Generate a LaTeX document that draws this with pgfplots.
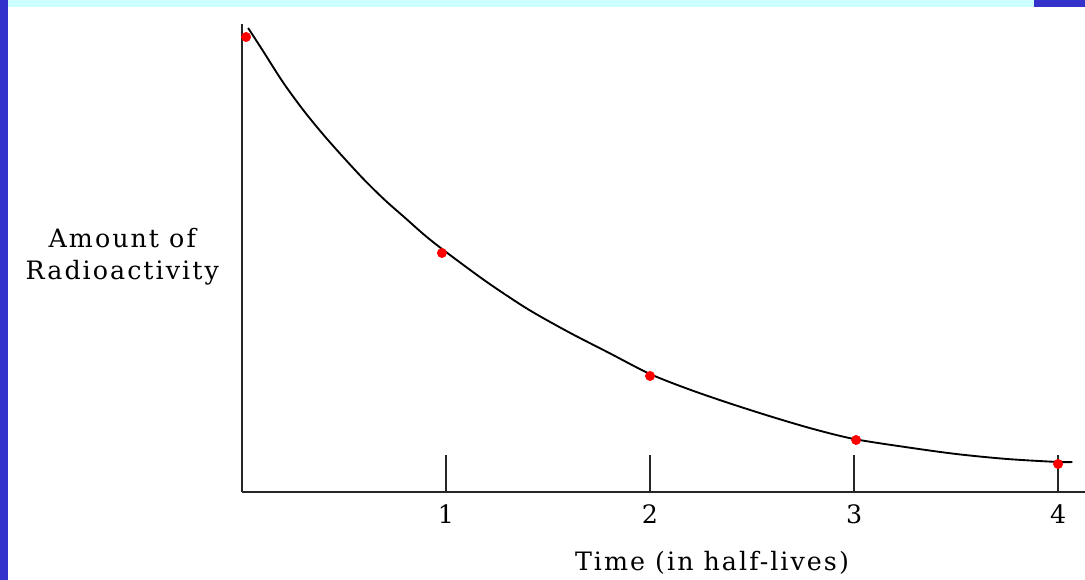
\documentclass[border=0pt]{standalone}
\usepackage{pgfplots}
\pgfplotsset{compat=1.18}
\usepackage{fontspec}
\setmainfont{DejaVu Serif}[LetterSpace=8]
\definecolor{barblue}{RGB}{51,51,204}
\definecolor{barcyan}{RGB}{204,255,255}
\begin{document}
\begin{tikzpicture}
\useasboundingbox (-181.5pt,-66pt) rectangle (632.25pt,369pt);
\fill[white] (-181.5pt,-66pt) rectangle (632.25pt,369pt);
\fill[barblue] (-181.5pt,-66pt) rectangle (-175.5pt,369pt);
\fill[barcyan] (-175.5pt,363.75pt) rectangle (594pt,369pt);
\fill[barblue] (594pt,363.75pt) rectangle (632.25pt,369pt);
\begin{axis}[
  at={(0pt,0pt)}, anchor=south west,
  scale only axis,
  width=632.25pt, height=351pt,
  xmin=0, xmax=4.132, ymin=0, ymax=468,
  axis x line=bottom, axis y line=left,
  axis line style={-, line width=1.7pt, black!85},
  xtick={1,2,3,4}, xticklabels={1,2,3,4},
  ytick=\empty,
  xtick align=inside,
  major tick length=27.75pt,
  xtick style={line width=1.7pt, black!85},
  xticklabel style={font=\fontsize{19pt}{22pt}\selectfont, yshift=-6pt},
  xlabel={Time (in half-lives)},
  xlabel style={font=\fontsize{19pt}{22pt}\selectfont, at={(axis description cs:0.5575,-0.1517)}, anchor=center},
  ylabel={Amount of\\Radioactivity},
  ylabel style={font=\fontsize{19pt}{24pt}\selectfont, rotate=-90, align=center, at={(axis description cs:-0.142,0.502)}, anchor=center},
  clip=false,
]
\addplot[black, line width=1.4pt, smooth] coordinates {
(0.03,464) (0.1,442) (0.2,410) (0.3,382) (0.4,357) (0.5,334) (0.6,312) (0.7,292) (0.8,274) (0.9,256) (1.0,240) (1.2,210) (1.4,183) (1.6,160) (1.8,139) (2.0,118) (2.2,102) (2.4,88) (2.6,75) (2.8,63) (3.0,53) (3.25,45) (3.5,38) (3.75,33) (4.0,30) (4.07,30)
};
\addplot[only marks, mark=*, mark size=3.5pt, color=red] coordinates {
(0.02,455) (0.98,239) (2.0,116) (3.01,52) (4.0,28)
};
\end{axis}
\end{tikzpicture}
\end{document}
